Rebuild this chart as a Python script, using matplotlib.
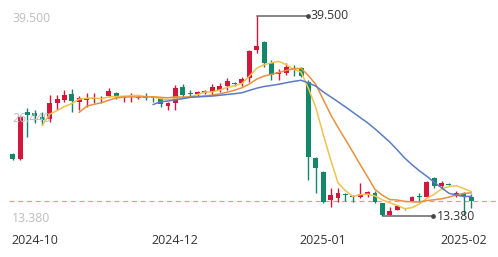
import numpy as np
import pandas as pd
import matplotlib
matplotlib.use("Agg")
import matplotlib.pyplot as plt
from matplotlib.transforms import offset_copy, blended_transform_factory, ScaledTranslation

plt.rcParams["font.family"] = ["Open Sans", "DejaVu Sans"]

# daily candles
opens = [21.48, 20.82, 26.96, 26.85, 26.31, 26.05, 28.14, 28.50, 29.30, 28.30,
         28.55, 28.65, 28.60, 29.05, 29.50, 28.80, 29.00, 28.85, 29.05, 28.95,
         28.60, 27.70, 28.14, 30.23, 29.45, 29.30, 29.45, 29.60, 29.85, 30.36,
         30.70, 30.75, 31.40, 35.10, 36.10, 33.40, 31.90, 32.06, 32.75, 32.70,
         30.87, 21.00, 19.13, 15.47, 15.70, 16.30, 16.00, 15.90, 16.12, 16.40,
         15.06, 13.50, 14.16, 14.30, 15.40, 15.95, 15.90, 18.30, 17.30, 17.60,
         16.00, 16.30, 15.85]
highs = [21.55, 26.60, 27.48, 27.20, 26.90, 29.18, 29.20, 29.80, 29.97, 29.00,
         29.45, 29.45, 29.00, 30.10, 29.60, 29.00, 29.50, 29.20, 29.40, 29.00,
         28.80, 28.30, 30.50, 30.60, 29.85, 29.70, 29.90, 30.60, 30.75, 31.40,
         30.90, 31.50, 35.06, 39.50, 36.20, 33.75, 32.60, 33.36, 33.10, 32.90,
         31.10, 21.10, 19.20, 17.00, 17.00, 16.40, 16.10, 17.70, 16.70, 16.60,
         15.10, 14.60, 14.85, 14.35, 16.00, 16.40, 18.00, 18.50, 17.90, 17.70,
         16.60, 16.50, 16.20]
lows = [20.75, 20.70, 23.70, 25.50, 25.30, 25.70, 27.20, 28.30, 26.96, 27.20,
        27.60, 28.10, 28.20, 28.90, 28.60, 28.30, 28.30, 28.60, 28.50, 28.30,
        27.60, 27.20, 27.20, 28.90, 29.00, 29.10, 29.30, 29.20, 29.60, 29.85,
        30.36, 30.36, 30.90, 34.70, 32.85, 31.14, 31.14, 31.80, 31.70, 31.50,
        18.08, 16.40, 15.10, 14.55, 15.20, 15.30, 15.20, 15.70, 15.90, 15.10,
        13.38, 13.45, 14.10, 14.20, 15.30, 15.20, 15.80, 17.10, 17.10, 17.40,
        15.90, 13.45, 14.40]
closes = [20.82, 26.31, 26.57, 26.45, 25.92, 28.14, 28.66, 29.20, 28.40, 28.80,
          28.75, 28.80, 28.70, 29.70, 28.95, 29.00, 29.10, 28.95, 28.85, 28.75,
          28.00, 28.10, 30.10, 29.18, 29.30, 29.55, 29.70, 30.23, 30.36, 31.00,
          30.60, 31.27, 34.93, 35.55, 33.36, 31.80, 32.20, 32.84, 32.45, 31.65,
          21.09, 19.65, 15.21, 16.12, 16.40, 16.10, 15.90, 16.30, 16.50, 15.20,
          13.50, 14.00, 14.70, 14.25, 15.90, 15.85, 17.80, 17.30, 17.70, 17.45,
          16.40, 15.95, 15.40]

n_slots = 66   # axis keeps a few empty slots after the last candle
date_labels = ["2024-10", "2024-12", "2025-01", "2025-02"]
date_pos = [3, 22, 42, 61]

ma_periods = [5, 10, 20]
ma_colors = ["#f0c24e", "#e8913a", "#5b7cc4"]

UP = "#d3163c"
DOWN = "#13876a"

o = np.array(opens)
h = np.array(highs)
l = np.array(lows)
c = np.array(closes)
x = np.arange(len(c))
ymin, ymax = l.min(), h.max()

W, H = 498, 257
fig = plt.figure(figsize=(W / 100, H / 100), dpi=100)
ax = fig.add_axes([9 / W, (H - 216) / H, 488 / W, 200 / H])
ax.set_xlim(-0.5, n_slots - 0.5)
ax.set_ylim(ymin, ymax)
ax.axis("off")

colors = np.where(c >= o, UP, DOWN)
ax.vlines(x, l, h, colors=colors, linewidth=1.0, zorder=2)
body_lo = np.minimum(o, c)
body_h = np.maximum(np.abs(c - o), 0.1)
ax.bar(x, body_h, bottom=body_lo, width=0.66, color=colors, linewidth=0, zorder=3)

s = pd.Series(c)
for p, col in zip(ma_periods, ma_colors):
    ax.plot(x, s.rolling(p).mean(), color=col, linewidth=1.1, zorder=4)

# last price line
ax.axhline(c[-1], color="#e59a9a", linewidth=0.9, linestyle=(0, (4, 3)), zorder=1)

# max / min marks
for idx, val in [(int(np.argmax(h)), h.max()), (int(np.argmin(l)), l.min())]:
    ax.annotate("", xy=(idx, val), xytext=(51, 0), textcoords="offset pixels",
                arrowprops=dict(arrowstyle="-", color="#444444", lw=0.9,
                                shrinkA=0, shrinkB=0), annotation_clip=False)
    dot = offset_copy(ax.transData, fig=fig, x=51, y=0, units="dots")
    ax.plot(idx, val, "o", ms=2.4, color="#444444", transform=dot, clip_on=False)
    ax.annotate(f"{val:.3f}", xy=(idx, val), xytext=(54, 0), textcoords="offset pixels",
                ha="left", va="center", fontsize=8.8, color="#333333",
                annotation_clip=False)

# y labels sit inside the plot, left aligned at 12px
ylab = blended_transform_factory(fig.transFigure, ax.transData) + \
    ScaledTranslation(0, -2.5 / 100, fig.dpi_scale_trans)
for v in np.linspace(ymin, ymax, 3):
    ax.text(12 / W, v, f"{v:.3f}", transform=ylab, ha="left", va="center",
            fontsize=8.8, color="#bdbdbd", clip_on=False, zorder=5)

xlab = offset_copy(ax.transData, fig=fig, x=0, y=-25, units="dots")
for pos, lab in zip(date_pos, date_labels):
    ax.text(pos, ymin, lab, transform=xlab, ha="center", va="center",
            fontsize=9.0, color="#333333", clip_on=False)

fig.savefig("out.png", dpi=100)
